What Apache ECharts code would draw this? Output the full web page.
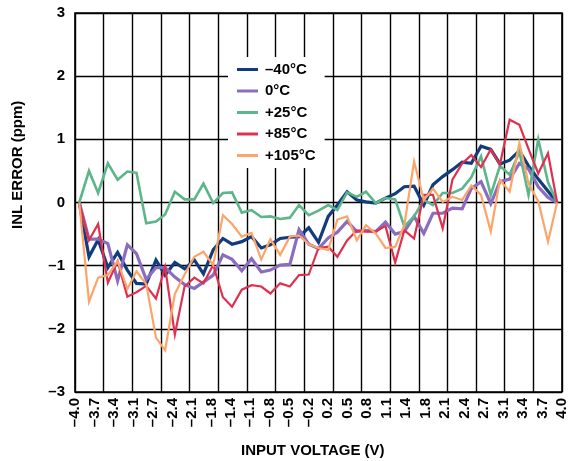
<!DOCTYPE html>
<html>
<head>
<meta charset="utf-8">
<script src="https://cdn.jsdelivr.net/npm/echarts@6/dist/echarts.min.js"></script>
<style>
html,body{margin:0;padding:0;background:#fff;}
#chart{width:572px;height:461px;}
</style>
</head>
<body>
<div id="chart"></div>
<script>
// Input voltage (V) of each measured point
const xVolts = [-3.93,-3.77,-3.62,-3.46,-3.30,-3.14,-2.99,-2.83,-2.67,-2.52,
  -2.36,-2.20,-2.04,-1.89,-1.73,-1.57,-1.42,-1.26,-1.10,-0.94,
  -0.79,-0.63,-0.47,-0.32,-0.16,0.00,0.16,0.31,0.47,0.63,
  0.78,0.94,1.10,1.26,1.41,1.57,1.73,1.88,2.04,2.20,
  2.36,2.51,2.67,2.83,2.98,3.14,3.30,3.45,3.61,3.77,3.92];

const tickLabels = ['–4.0','–3.7','–3.4','–3.1','–2.7','–2.4','–2.1','–1.8','–1.4','–1.1',
  '–0.8','–0.5','–0.2','0.2','0.5','0.8','1.1','1.4','1.8','2.1','2.4','2.7','3.1','3.4','3.7','4.0'];

const seriesNames = ['–40°C','0°C','+25°C','+85°C','+105°C'];

const inlM40 = [0,-0.86,-0.59,-1.03,-0.79,-1.07,-1.28,-1.29,-0.91,-1.15,
  -0.95,-1.05,-0.91,-1.13,-0.75,-0.57,-0.66,-0.62,-0.54,-0.72,
  -0.67,-0.57,-0.55,-0.54,-0.40,-0.63,-0.22,-0.04,0.17,0.04,
  0.01,-0.01,0.07,0.14,0.25,0.26,-0.04,0.28,0.41,0.52,
  0.64,0.62,0.89,0.84,0.61,0.67,0.82,0.58,0.37,0.18,0];

const inl0 = [0,-0.58,-0.58,-0.65,-1.24,-0.67,-0.81,-1.22,-1.03,-1.03,
  -1.18,-1.30,-1.36,-1.26,-1.15,-0.83,-0.90,-1.08,-0.89,-1.10,
  -1.07,-0.99,-0.98,-0.43,-0.66,-0.73,-0.56,-0.47,-0.30,-0.46,
  -0.44,-0.46,-0.31,-0.50,-0.46,-0.22,-0.49,-0.17,-0.17,-0.09,
  -0.10,0.22,0.33,-0.02,0.33,0.37,0.62,0.53,0.25,0.08,0];

const inl25 = [0,0.50,0.15,0.62,0.36,0.49,0.47,-0.33,-0.30,-0.19,
  0.17,0.05,0.05,0.30,-0.01,0.15,0.16,-0.16,-0.12,-0.23,
  -0.22,-0.26,-0.24,-0.04,-0.20,-0.13,-0.04,-0.12,0.16,0.09,
  0.17,-0.01,0.07,0.05,-0.38,-0.22,0.04,-0.04,0.15,0.15,
  0.22,0.40,0.73,0.12,0.58,0.44,0.80,0.12,1.00,0.32,0];

const inl85 = [0,-0.60,-0.34,-1.27,-0.93,-1.49,-1.42,-1.32,-1.52,-1.02,
  -2.09,-1.33,-1.19,-1.28,-0.99,-1.50,-1.65,-1.38,-1.31,-1.33,
  -1.44,-1.28,-1.33,-1.15,-1.14,-0.72,-0.70,-0.86,-0.60,-0.44,
  -0.46,-0.46,-0.37,-0.95,-0.44,-0.57,0.12,0.12,-0.41,0.36,
  0.62,0.75,0.56,0.84,0.60,1.31,1.23,0.85,0.46,0.78,0];

const inl105 = [0,-1.57,-1.19,-1.15,-0.93,-1.37,-1.09,-1.29,-2.14,-2.34,
  -1.45,-1.14,-0.86,-0.78,-0.99,-0.20,-0.34,-0.54,-0.48,-0.90,
  -0.58,-0.83,-0.54,-0.52,-0.66,-0.72,-0.75,-0.27,-0.22,-0.60,
  -0.36,-0.49,-0.72,-0.70,-0.36,0.65,0.04,0.22,0.01,0.09,
  0.04,0.27,0.12,-0.46,0.36,0.17,0.94,0.30,0.02,-0.62,0];

const FONT = '"Liberation Sans", Arial, Helvetica, sans-serif';
const colors = ['#123c7c','#8b6cbf','#5db58a','#e0304f','#fda468'];
const widths = [3.2,3.2,2.6,2.2,2.2];
const allData = [inlM40, inl0, inl25, inl85, inl105];

const chart = echarts.init(document.getElementById('chart'), null, {renderer:'canvas'});

const series = allData.map((vals, k) => ({
  name: seriesNames[k],
  type: 'line',
  xAxisIndex: 0,
  yAxisIndex: 0,
  data: vals.map((v, i) => [xVolts[i], v]),
  symbol: 'none',
  smooth: false,
  color: colors[k],
  lineStyle: {color: colors[k], width: widths[k], join: 'miter'},
  z: 2 + k,
  animation: false
}));

chart.setOption({
  animation: false,
  backgroundColor: '#fff',
  grid: {left: 75, right: 10, top: 13, bottom: 69, show: true, borderColor: '#000', borderWidth: 1.6, backgroundColor: 'transparent'},
  xAxis: [
    {type: 'value', min: -4, max: 4, show: false},
    {type: 'value', min: 0, max: 25, interval: 1, position: 'bottom',
      axisLine: {show: false}, axisTick: {show: false}, splitLine: {show: false},
      axisLabel: {rotate: 90, margin: 6, fontFamily: FONT, fontWeight: 'bold', fontSize: 15, color: '#000',
        formatter: v => tickLabels[Math.round(v)]}},
    {type: 'value', min: 0, max: 17, interval: 1, position: 'top',
      axisLine: {show: false}, axisTick: {show: false}, axisLabel: {show: false},
      splitLine: {show: true, lineStyle: {color: '#000', width: 1.4}}}
  ],
  yAxis: {type: 'value', min: -3, max: 3, interval: 1,
    axisLine: {show: false}, axisTick: {show: false},
    splitLine: {show: true, lineStyle: {color: '#000', width: 1.4}},
    axisLabel: {margin: 10, fontFamily: FONT, fontWeight: 'bold', fontSize: 15, color: '#000',
      formatter: v => String(v).replace('-', '–')}},
  legend: {
    orient: 'vertical', left: 228, top: 57, padding: [5, 9, 5, 9],
    itemWidth: 21, itemHeight: 3, itemGap: 6.5, icon: 'rect',
    backgroundColor: '#fff', z: 10,
    data: seriesNames,
    textStyle: {fontFamily: FONT, fontWeight: 'bold', fontSize: 15, color: '#000', padding: [0,0,0,2]}
  },
  graphic: [
    {type: 'text', left: 314 - 73, top: 443, z: 20,
      style: {text: 'INPUT VOLTAGE (V)', fontFamily: FONT, fontWeight: 'bold', fontSize: 15, fill: '#000'}},
    {type: 'text', x: 10, y: 229, rotation: Math.PI / 2, z: 20,
      style: {text: 'INL ERROR (ppm)', fontFamily: FONT, fontWeight: 'bold', fontSize: 15, fill: '#000', align: 'left', verticalAlign: 'top'}}
  ],
  series: series
});
</script>
</body>
</html>
